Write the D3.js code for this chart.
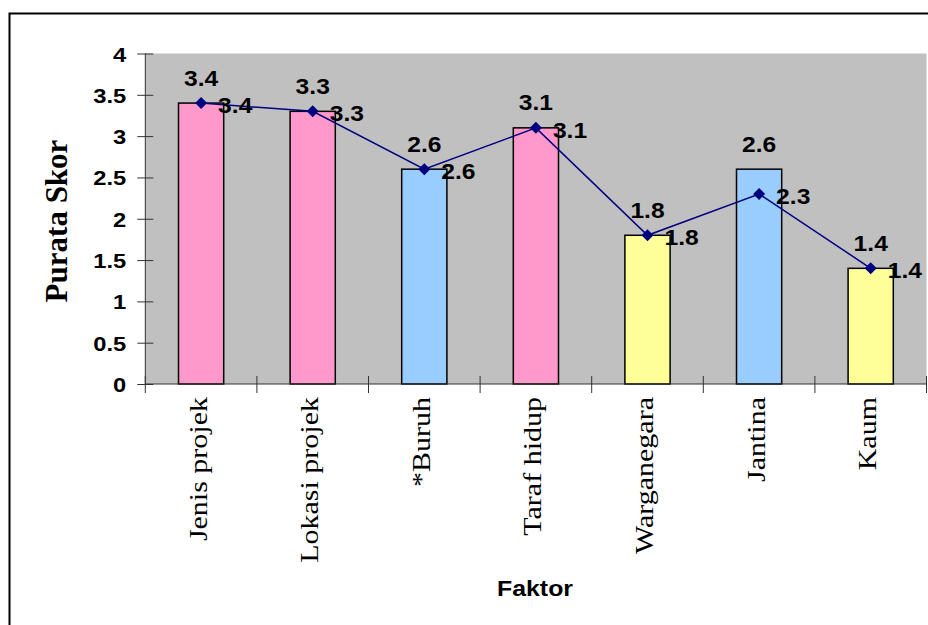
<!DOCTYPE html>
<html>
<head>
<meta charset="utf-8">
<script src="https://cdn.jsdelivr.net/npm/d3@7"></script>
<style>
  body { margin: 0; background: #fff; }
  svg { display: block; }
</style>
</head>
<body>
<div id="chart"></div>
<script>
// chart data
const categories = ['Jenis projek', 'Lokasi projek', '*Buruh', 'Taraf hidup', 'Warganegara', 'Jantina', 'Kaum'];
const barValues = [3.4, 3.3, 2.6, 3.1, 1.8, 2.6, 1.4];
const lineValues = [3.4, 3.3, 2.6, 3.1, 1.8, 2.3, 1.4];
const barGroups = ['pink', 'pink', 'blue', 'pink', 'yellow', 'blue', 'yellow'];
const yTicks = [0, 0.5, 1, 1.5, 2, 2.5, 3, 3.5, 4];

const width = 928, height = 625;
const plot = { left: 145.3, right: 926.5, top: 53.5, bottom: 384 };
const palette = { pink: '#FF99CC', blue: '#99CCFF', yellow: '#FFFF99' };
const sans = '"Liberation Sans", Arial, sans-serif';
const serif = '"Liberation Serif", "Times New Roman", serif';

const svg = d3.select('#chart')
    .append('svg')
    .attr('width', width)
    .attr('height', height);

// outer frame (runs off the picture on right and bottom)
svg.append('rect')
    .attr('x', 9.5).attr('y', 13.5)
    .attr('width', 940).attr('height', 640)
    .attr('fill', '#fff')
    .attr('stroke', '#000')
    .attr('stroke-width', 2);

const x = d3.scaleBand()
    .domain(categories)
    .range([plot.left, plot.right])
    .paddingInner(0)
    .paddingOuter(0);

const y = d3.scaleLinear()
    .domain([0, 4])
    .range([plot.bottom, plot.top]);

const barW = x.bandwidth() * 0.405;

// plot background
svg.append('rect')
    .attr('x', plot.left).attr('y', plot.top)
    .attr('width', plot.right - plot.left)
    .attr('height', plot.bottom - plot.top)
    .attr('fill', '#C0C0C0');

// bars
svg.append('g')
    .selectAll('rect')
    .data(categories)
    .join('rect')
    .attr('x', d => x(d) + x.bandwidth() / 2 - barW / 2)
    .attr('y', (d, i) => y(barValues[i]))
    .attr('width', barW)
    .attr('height', (d, i) => y(0) - y(barValues[i]))
    .attr('fill', (d, i) => palette[barGroups[i]])
    .attr('stroke', '#000')
    .attr('stroke-width', 1.5);

// y axis with crossing ticks
const yAxis = svg.append('g')
    .attr('transform', `translate(${plot.left},0)`)
    .call(d3.axisLeft(y).tickValues(yTicks).tickSize(8).tickFormat(d3.format('')));
yAxis.select('.domain').attr('stroke', '#333').attr('d', `M0,${plot.top}V${plot.bottom}`);
yAxis.selectAll('.tick line').attr('x1', 8).attr('x2', -8).attr('stroke', '#333');
yAxis.selectAll('.tick text').remove();
yAxis.selectAll('.tick')
    .append('text')
    .attr('transform', 'translate(-19,7.5) scale(1.13,1)')
    .attr('text-anchor', 'end')
    .attr('fill', '#000')
    .style('font-family', sans)
    .style('font-weight', 'bold')
    .style('font-size', '21px')
    .text(d => d3.format('')(d));

// x axis line and category boundary ticks
const xAxis = svg.append('g');
xAxis.append('line')
    .attr('x1', plot.left).attr('x2', plot.right)
    .attr('y1', y(0)).attr('y2', y(0))
    .attr('stroke', '#333');
const bounds = categories.map(c => x(c)).concat([x.range()[1]]);
xAxis.selectAll('line.tick')
    .data(bounds)
    .join('line')
    .attr('class', 'tick')
    .attr('x1', d => d).attr('x2', d => d)
    .attr('y1', y(0) - 8).attr('y2', y(0) + 9)
    .attr('stroke', '#333');

// category labels, rotated
xAxis.selectAll('text')
    .data(categories)
    .join('text')
    .attr('transform', d => `translate(${x(d) + x.bandwidth() / 2},397) rotate(-90) scale(1.2,1)`)
    .attr('dy', 5.5)
    .attr('text-anchor', 'end')
    .style('font-family', serif)
    .style('font-size', '25px')
    .text(d => d);

// line series
const pts = categories.map((c, i) => [x(c) + x.bandwidth() / 2, y(lineValues[i])]);
svg.append('path')
    .attr('d', d3.line()(pts))
    .attr('fill', 'none')
    .attr('stroke', '#000080')
    .attr('stroke-width', 1.5);

svg.append('g')
    .selectAll('path')
    .data(pts)
    .join('path')
    .attr('transform', d => `translate(${d[0]},${d[1]})`)
    .attr('d', 'M0,-6L6,0L0,6L-6,0Z')
    .attr('fill', '#000080');

// bar value labels (above bars)
svg.append('g')
    .selectAll('text')
    .data(categories)
    .join('text')
    .attr('transform', (d, i) => `translate(${x(d) + x.bandwidth() / 2},${y(barValues[i]) - 17.5}) scale(1.12,1)`)
    .attr('text-anchor', 'middle')
    .style('font-family', sans)
    .style('font-weight', 'bold')
    .style('font-size', '22px')
    .text((d, i) => barValues[i]);

// line value labels (right of points)
svg.append('g')
    .selectAll('text')
    .data(pts)
    .join('text')
    .attr('transform', d => `translate(${d[0] + 17},${d[1] + 10}) scale(1.12,1)`)
    .style('font-family', sans)
    .style('font-weight', 'bold')
    .style('font-size', '22px')
    .text((d, i) => lineValues[i]);

// axis titles
svg.append('text')
    .attr('transform', `translate(67,221) rotate(-90)`)
    .attr('text-anchor', 'middle')
    .style('font-family', serif)
    .style('font-weight', 'bold')
    .style('font-size', '31px')
    .text('Purata Skor');

svg.append('text')
    .attr('transform', 'translate(535,596) scale(1.13,1)')
    .attr('text-anchor', 'middle')
    .style('font-family', sans)
    .style('font-weight', 'bold')
    .style('font-size', '22px')
    .text('Faktor');
</script>
</body>
</html>
